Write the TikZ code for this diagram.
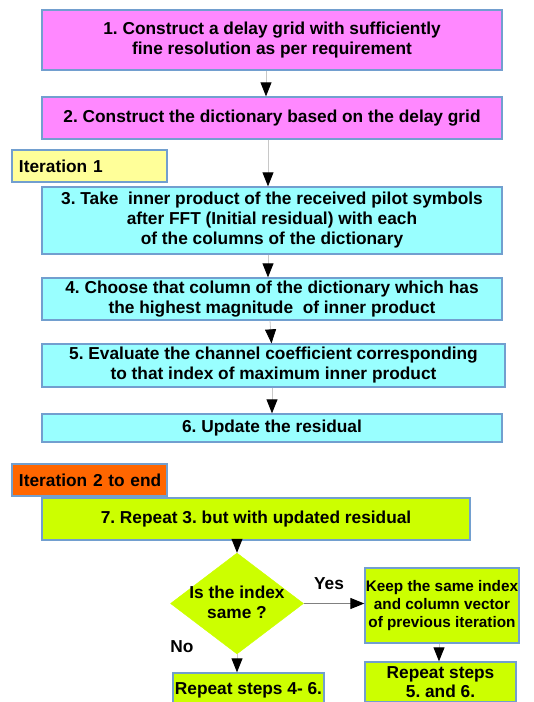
\documentclass[tikz,border=0pt]{standalone}
\usepackage{fontspec}
\setmainfont{Liberation Sans}
\usetikzlibrary{arrows.meta,shapes.geometric}
\definecolor{pinkfill}{HTML}{FF88FF}
\definecolor{cyanfill}{HTML}{99FFFF}
\definecolor{yellowfill}{HTML}{FFFF99}
\definecolor{orangefill}{HTML}{FF6600}
\definecolor{limefill}{HTML}{CCFF00}
\definecolor{edgeblue}{HTML}{729FCF}
\definecolor{linegray}{HTML}{C8C8C8}
\definecolor{yesgray}{HTML}{808080}
\frenchspacing
\begin{document}
\begin{tikzpicture}[x=1pt,y=1pt,
  every node/.style={font=\bfseries\fontsize{17.3}{20}\selectfont, text=black},
  box/.style={draw=edgeblue, line width=1.3pt, align=center, inner sep=0pt},
  pinkbox/.style={box, fill=pinkfill},
  cyanbox/.style={box, fill=cyanfill},
  limebox/.style={box, fill=limefill},
  iterbox/.style={box, text width=150pt, inner xsep=2.5pt, align=left, minimum height=32pt},
  flow/.style={draw=linegray, line width=0.8pt, -{Triangle[length=14pt,width=11pt,color=black]}},
  yesflow/.style={draw=yesgray, line width=1pt, -{Triangle[length=14pt,width=11pt,color=black]}},
  lbl/.style={inner sep=0pt}
]
\useasboundingbox (0,0) rectangle (534,-702);

\node[pinkbox, minimum width=460pt, minimum height=60pt] (b1) at (272,-40)
  {1. Construct a delay grid with sufficiently\\fine resolution as per requirement};
\node[pinkbox, minimum width=460pt, minimum height=42pt] (b2) at (272,-118)
  {2. Construct the dictionary based on the delay grid};
\node[iterbox, fill=yellowfill] (it1) at (89.5,-166) {\hspace*{4.5pt}Iteration 1};
\node[cyanbox, minimum width=460pt, minimum height=67pt] (b3) at (272,-220.5)
  {3. Take\ \ inner product of the received pilot symbols\\after FFT (Initial residual) with each\\of the columns of the dictionary};
\node[cyanbox, minimum width=460pt, minimum height=42pt] (b4) at (272,-299)
  {4. Choose that column of the dictionary which has\\the highest magnitude\ \ of inner product};
\node[cyanbox, minimum width=463pt, minimum height=43pt] (b5) at (273.5,-365.5)
  {5. Evaluate the channel coefficient corresponding\\to that index of maximum inner product};
\node[cyanbox, minimum width=460pt, minimum height=28pt] (b6) at (272,-428)
  {6. Update the residual};
\node[iterbox, fill=orangefill] (it2) at (89.5,-480) {\hspace*{4.5pt}Iteration 2 to end};
\node[limebox, minimum width=428pt, minimum height=42pt] (b7) at (256,-519)
  {7. Repeat 3. but with updated residual};

\node[diamond, fill=limefill, draw=limefill, minimum width=133pt, minimum height=101pt, inner sep=0pt] (dq) at (237,-603.5) {};
\node[lbl, align=center] (dqt) at (237,-602) {Is the index\\same ?};

\node[limebox, minimum width=154pt, minimum height=75pt, font=\bfseries\fontsize{15.3}{18}\selectfont] (keep) at (442,-605.5)
  {Keep the same index\\and column vector\\of previous iteration};
\node[limebox, minimum width=151pt, minimum height=40pt, font=\bfseries\fontsize{17.3}{19}\selectfont] (r56) at (440.5,-682)
  {Repeat steps\\5. and 6.};
\node[limebox, minimum width=151pt, minimum height=34pt] (r46) at (248.5,-690)
  {Repeat steps 4- 6.};

\node[lbl] (yes) at (329,-584) {Yes};
\node[lbl] (no) at (182,-647) {No};

\draw[flow] ([xshift=-6pt]b1.south) -- ([xshift=-6pt]b2.north);
\draw[flow] ([xshift=-4pt]b2.south) -- ([xshift=-4pt]b3.north);
\draw[flow] ([xshift=-4pt]b3.south) -- ([xshift=-4pt]b4.north);
\draw[flow] ([xshift=-2pt]b4.south) -- ([xshift=-2pt]b5.north);
\draw[flow] ([xshift=-1.5pt]b5.south) -- ([xshift=0pt]b6.north);
\draw[flow] (b7.south -| dq.north) -- (dq.north);
\draw[yesflow] (dq.east) -- (keep.west |- dq.east);
\draw[flow] (dq.south) -- (r46.north -| dq.south);
\draw[flow] ([xshift=-3pt]keep.south) -- ([xshift=-1.5pt]r56.north);
\end{tikzpicture}
\end{document}
